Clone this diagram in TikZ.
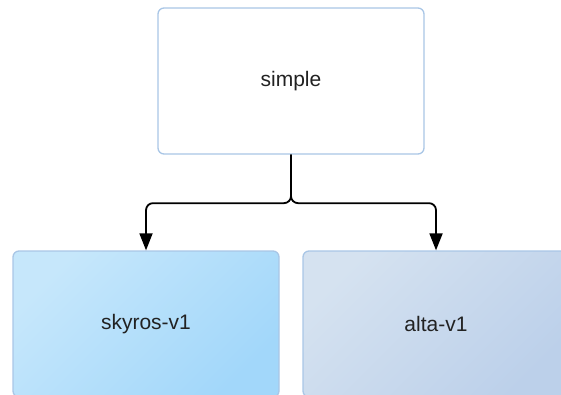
\documentclass[tikz,border=0pt]{standalone}
\usepackage{fontspec}
\setmainfont{Liberation Sans}
\usetikzlibrary{arrows.meta}

\definecolor{boxline}{HTML}{A9C6E6}
\definecolor{skyA}{HTML}{C6E7FB}
\definecolor{skyB}{HTML}{A2D7FA}
\definecolor{altaA}{HTML}{D5E2F0}
\definecolor{altaB}{HTML}{BCD0EA}
\definecolor{labeltext}{HTML}{222222}

\tikzset{
    block/.style={draw=boxline, line width=1.3pt, rounded corners=6pt,
        minimum width=266pt, minimum height=146pt, inner sep=0pt,
        text=labeltext, font=\fontsize{21}{25}\selectfont},
    link/.style={line width=1.8pt, rounded corners=7pt,
        -{Triangle[width=13pt,length=17pt]}}
}

\begin{document}
\begin{tikzpicture}[x=1pt,y=1pt]
    \useasboundingbox (0,0) rectangle (561,394);
    \node[block, fill=white] (simple) at (291,313) {simple};
    \node[block, top color=skyA, bottom color=skyB, shading angle=45] (skyros) at (146,70) {skyros-v1};
    \node[block, top color=altaA, bottom color=altaB, shading angle=45] (alta) at (436,70) {alta-v1};
    \foreach \T in {skyros,alta} {
        \draw[link] (simple.south) -- ++(0,-48.5) -| (\T.north);
    }
\end{tikzpicture}
\end{document}
